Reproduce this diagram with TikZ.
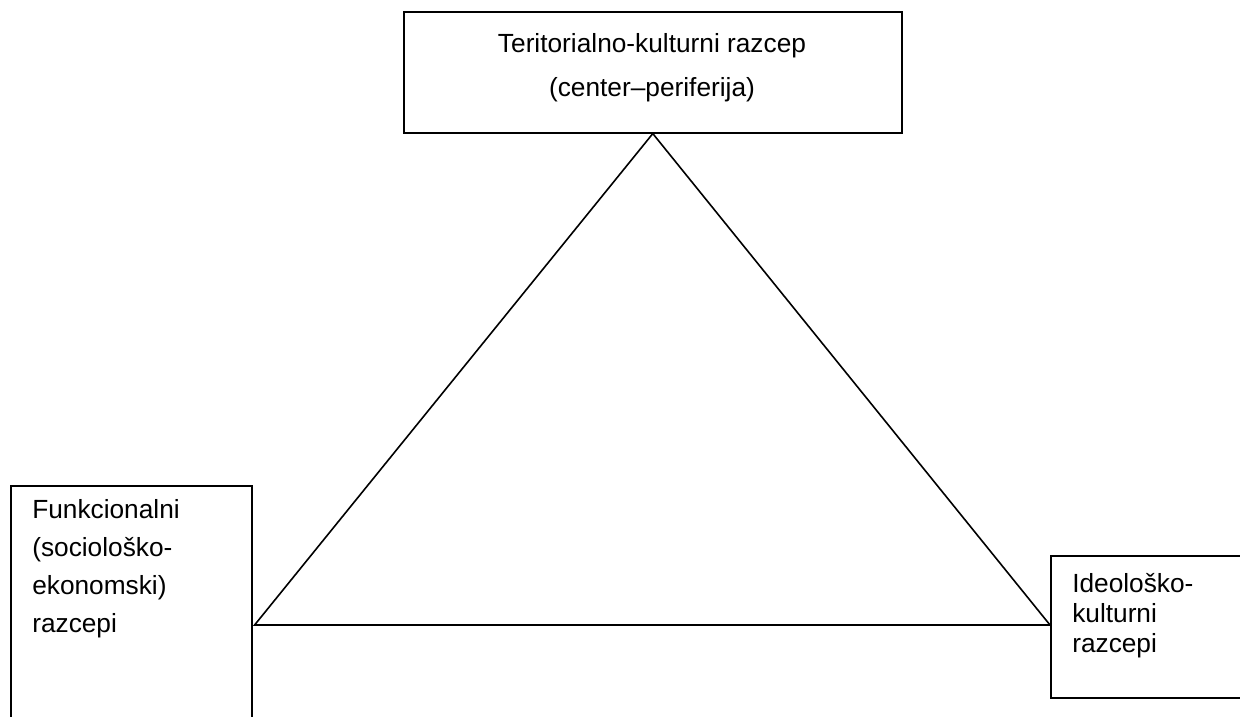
\documentclass[tikz,border=0pt]{standalone}
\usepackage{fontspec}
\setmainfont{Liberation Sans}
\usepackage{tikz}

\tikzset{
  razbox/.style={draw, line width=1.2pt, rectangle, inner sep=0pt, anchor=north west},
  raztext/.style={inner sep=0pt, align=left, anchor=base west},
}

\begin{document}
\begin{tikzpicture}[x=0.75pt,y=0.75pt,yscale=-1,xscale=1]
\useasboundingbox (0,0) rectangle (1240,717);
\clip (0,0) rectangle (1240,717);

%Shape: Rectangle [top]
\node (terbox) [razbox, minimum width=373.5pt, minimum height=90.75pt] at (403,11) {};
%Shape: Rectangle [left]
\node (funbox) [razbox, minimum width=180.75pt, minimum height=195pt] at (10,485) {};
%Shape: Rectangle [right]
\node (idebox) [razbox, minimum width=165pt, minimum height=106.5pt] at (1050,555) {};

%Shape: Triangle
\path (funbox.north east) ++(2,140) coordinate (funv);
\path (idebox.north west) ++(0,70) coordinate (idev);
\draw [line width=1.2pt, line join=miter] (terbox.south) -- (funv) -- (idev) -- cycle;

% Text Node
\node (tertext) [raztext, align=center, anchor=base, font=\fontsize{19.7}{33}\selectfont] at (652,97)
  {Teritorialno-kulturni razcep\\(center--periferija)};
% Text Node
\node (funtext) [raztext, font=\fontsize{19.7}{28.5}\selectfont] at (32,632)
  {Funkcionalni\\(sociološko-\\ekonomski)\\razcepi};
% Text Node
\node (idetext) [raztext, font=\fontsize{19.7}{22.5}\selectfont] at (1072,652)
  {Ideološko-\\kulturni\\razcepi};

\end{tikzpicture}
\end{document}
